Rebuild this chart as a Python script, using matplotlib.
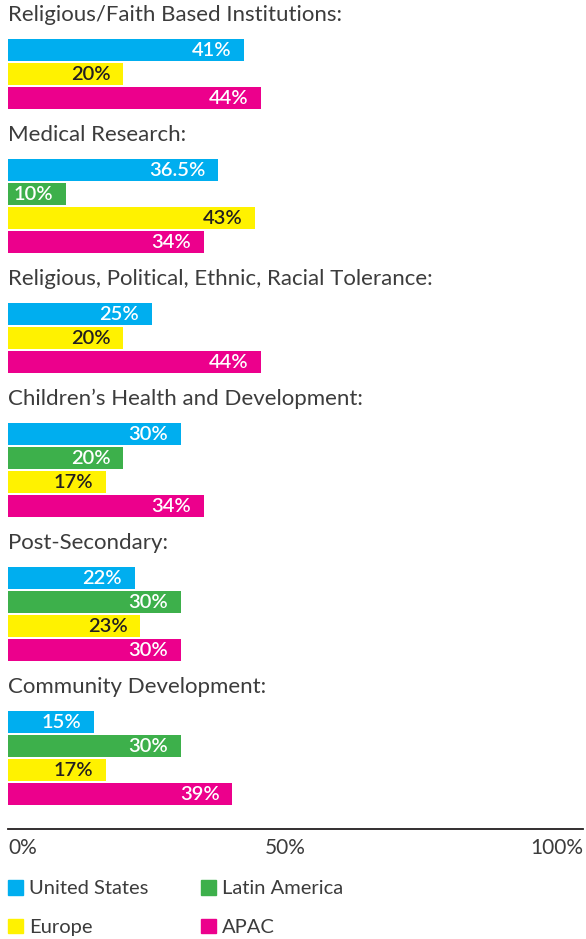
import matplotlib
matplotlib.use("Agg")
from matplotlib import pyplot as plt
from matplotlib.patches import Patch

# chart values (None = series not shown for that cause)
causes = ["Religious/Faith Based Institutions:",
          "Medical Research:",
          "Religious, Political, Ethnic, Racial Tolerance:",
          "Children\u2019s Health and Development:",
          "Post-Secondary:",
          "Community Development:"]
series = ["United States", "Latin America", "Europe", "APAC"]
us = [41, 36.5, 25, 30, 22, 15]
latam = [None, 10, None, 20, 30, 30]
europe = [20, 43, 20, 17, 23, 17]
apac = [44, 34, 44, 34, 30, 39]
tick_vals = [0, 50, 100]
tick_labels = ["0%", "50%", "100%"]

colors = ["#00aeef", "#3db04b", "#fff200", "#ec008c"]
label_colors = ["white", "white", "#231f20", "white"]
values = [us, latam, europe, apac]

plt.rcParams['font.family'] = ['Lato', 'DejaVu Sans']
W, H = 586, 939
fig = plt.figure(figsize=(W / 100, H / 100), dpi=100)
axis_y = 829
ax = fig.add_axes([8 / W, (H - axis_y) / H, 575 / W, axis_y / H])
ax.set_xlim(0, 100)
ax.set_ylim(axis_y, 0)

text_col = "#3c3c3c"
y = 15
for i, cause in enumerate(causes):
    ax.text(0, y, cause, ha='left', va='center', fontsize=16,
            fontweight='normal', color=text_col)
    top = y + 24
    for s in range(4):
        v = values[s][i]
        if v is None:
            continue
        ax.barh(top + 11, v, height=22, color=colors[s], left=0)
        lbl = ("%g" % v) + "%"
        ax.annotate(lbl, (v, top + 11), xytext=(-9, 0), textcoords='offset points',
                    ha='right', va='center', fontsize=14.5, fontweight='semibold',
                    color=label_colors[s])
        top += 24
    y = top - 2 + 26

for sp in ['top', 'left', 'right']:
    ax.spines[sp].set_visible(False)
ax.spines['bottom'].set_color('#231f20')
ax.spines['bottom'].set_linewidth(1.3)
ax.set_xticks([])
ax.set_yticks([])
ax.patch.set_visible(False)

# tick labels, placed like the reference
tick_pos = [0, 48.3, 100]
tick_ha = ['left', 'center', 'right']
for tv, tl, tp, ha in zip(tick_vals, tick_labels, tick_pos, tick_ha):
    ax.text(tp, axis_y + 19, tl, ha=ha, va='center', fontsize=15,
            color=text_col, clip_on=False)

handles = [Patch(color=colors[k]) for k in [0, 2, 1, 3]]
names = [series[k] for k in [0, 2, 1, 3]]
leg = fig.legend(handles, names, ncol=2, loc='upper left',
                 bbox_to_anchor=(2 / W, 1 - 874 / H), frameon=False,
                 fontsize=14.5, handlelength=0.75, handleheight=0.75,
                 handletextpad=0.3, labelspacing=1.05, columnspacing=2.6,
                 borderpad=0.3, borderaxespad=0)
for t in leg.get_texts():
    t.set_color(text_col)

fig.savefig("out.png", dpi=100)
